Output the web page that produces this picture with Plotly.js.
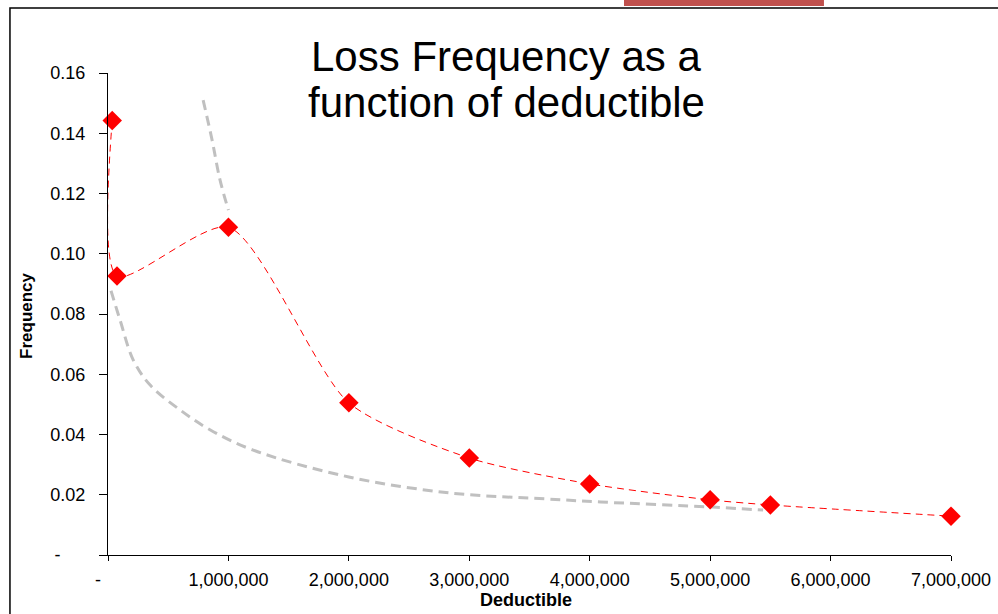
<!DOCTYPE html>
<html>
<head>
<meta charset="utf-8">
<script src="https://cdn.plot.ly/plotly-3.0.1.min.js"></script>
<style>
  html, body { margin: 0; padding: 0; background: #ffffff; }
  #chart { width: 998px; height: 614px; }
</style>
</head>
<body>
<div id="chart"></div>
<script>
// Observed loss frequency by deductible
const deductible = [35000, 75000, 1000000, 2000000, 3000000, 4000000, 5000000, 5500000, 7000000];
const frequency  = [0.1442, 0.0926, 0.1088, 0.0505, 0.0322, 0.0236, 0.0183, 0.0166, 0.0129];

// Grey fitted curve, upper branch
const fitUpperX = [790000, 864000, 930000, 1000000];
const fitUpperY = [0.1510, 0.1378, 0.1245, 0.1145];

// Grey fitted curve, lower branch
const fitLowerX = [25000, 100000, 210000, 350000, 600000, 850000, 1200000, 2000000, 2840000, 3650000, 4090000, 5020000, 5440000];
const fitLowerY = [0.0877, 0.0780, 0.0647, 0.0564, 0.0481, 0.0415, 0.0349, 0.0259, 0.0206, 0.0186, 0.0176, 0.0159, 0.0149];

// Axis ticks
const xTickVals = [0, 1000000, 2000000, 3000000, 4000000, 5000000, 6000000, 7000000];
const xTickText = ['-\u00A0\u00A0\u00A0\u00A0', '1,000,000', '2,000,000', '3,000,000', '4,000,000', '5,000,000', '6,000,000', '7,000,000'];
const yTickVals = [0, 0.02, 0.04, 0.06, 0.08, 0.10, 0.12, 0.14, 0.16];
const yTickText = ['-\u00A0\u00A0\u00A0\u00A0\u00A0', '0.02', '0.04', '0.06', '0.08', '0.10', '0.12', '0.14', '0.16'];

const titleLines = ['Loss Frequency as a', 'function of deductible'];
const xTitle = 'Deductible';
const yTitle = 'Frequency';

const FONT = 'Arial, "Liberation Sans", sans-serif';
const grey = '#c0c0c0';

const traces = [
  {
    x: fitUpperX, y: fitUpperY, type: 'scatter', mode: 'lines',
    line: { color: grey, width: 3, dash: '10px,6px', shape: 'spline', smoothing: 1 },
    hoverinfo: 'skip', showlegend: false
  },
  {
    x: fitLowerX, y: fitLowerY, type: 'scatter', mode: 'lines',
    line: { color: grey, width: 3, dash: '10px,6px', shape: 'spline', smoothing: 1 },
    hoverinfo: 'skip', showlegend: false
  },
  {
    x: deductible, y: frequency, type: 'scatter', mode: 'lines+markers',
    line: { color: '#ff0000', width: 1, dash: '7px,5px', shape: 'spline', smoothing: 0.7 },
    marker: { symbol: 'diamond', size: 15, color: '#ff0000' },
    cliponaxis: false, showlegend: false
  }
];

const layout = {
  width: 998, height: 614,
  margin: { l: 108, r: 47, t: 73, b: 59 },
  paper_bgcolor: '#ffffff', plot_bgcolor: '#ffffff',
  font: { family: FONT, color: '#000000' },
  showlegend: false,
  xaxis: {
    range: [0, 7000000], tickmode: 'array', tickvals: xTickVals, ticktext: xTickText,
    showgrid: false, zeroline: false, showline: true, linecolor: '#000000', linewidth: 1,
    ticks: 'outside', ticklen: 5, tickcolor: '#000000', tickwidth: 1,
    tickfont: { family: FONT, size: 18, color: '#000000' }, ticklabelstandoff: 3
  },
  yaxis: {
    range: [0, 0.16], tickmode: 'array', tickvals: yTickVals, ticktext: yTickText,
    showgrid: false, zeroline: false, showline: true, linecolor: '#000000', linewidth: 1,
    ticks: 'outside', ticklen: 8, tickcolor: '#000000', tickwidth: 1,
    tickfont: { family: FONT, size: 18, color: '#000000' }, ticklabelstandoff: 10
  },
  annotations: [
    { text: titleLines[0], xref: 'paper', yref: 'paper', x: 0.473, y: 1.035, xanchor: 'center', yanchor: 'middle',
      showarrow: false, font: { family: FONT, size: 42, color: '#000000' } },
    { text: titleLines[1], xref: 'paper', yref: 'paper', x: 0.473, y: 0.938, xanchor: 'center', yanchor: 'middle',
      showarrow: false, font: { family: FONT, size: 42, color: '#000000' } },
    // axis titles
    { text: '<b>' + xTitle + '</b>', xref: 'paper', yref: 'paper', x: 0.4959, y: -0.0933, xanchor: 'center', yanchor: 'middle',
      borderpad: 0, showarrow: false, font: { family: FONT, size: 18, color: '#000000' } },
    { text: '<b>' + yTitle + '</b>', xref: 'paper', yref: 'paper', x: -0.0961, y: 0.498, xanchor: 'center', yanchor: 'middle',
      textangle: -90, showarrow: false, font: { family: FONT, size: 17, color: '#000000' } }
  ],
  shapes: [
    // slide frame: left and top edges
    { type: 'path', xref: 'paper', yref: 'paper', path: 'M -0.1163,-0.2 L -0.1163,1.1349 L 1.2,1.1349',
      line: { color: '#000000', width: 1.5 } },
    // accent bar at the top edge
    { type: 'rect', xref: 'paper', yref: 'paper', x0: 0.6121, x1: 0.8493, y0: 1.139, y1: 1.17,
      fillcolor: '#c0504d', line: { width: 0 } }
  ]
};

Plotly.newPlot('chart', traces, layout, { staticPlot: true, displayModeBar: false });
</script>
</body>
</html>
